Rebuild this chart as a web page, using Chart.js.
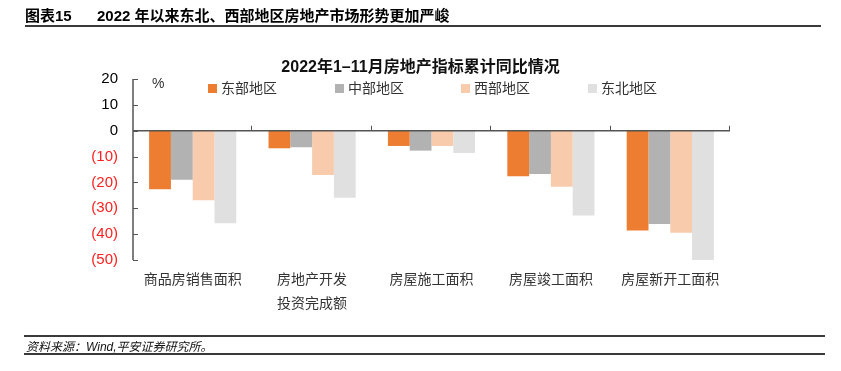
<!DOCTYPE html>
<html>
<head>
<meta charset="utf-8">
<script src="https://cdn.jsdelivr.net/npm/chart.js@4"></script>
<style>
  body { margin: 0; width: 841px; height: 371px; background: #fff; position: relative; overflow: hidden;
         font-family: Arial, "Liberation Sans", "Noto Sans CJK SC", sans-serif; }
  #wrap { position: absolute; left: 0; top: 0; width: 841px; height: 371px; }
  .txt { position: absolute; white-space: nowrap; color: #000; }
  .line { position: absolute; height: 2px; background: #3a3a3a; }
  .leg { position: absolute; top: 77px; font-size: 14px; color: #333; white-space: nowrap; }
  .leg i { display: inline-block; width: 9px; height: 9px; margin-right: 4px; vertical-align: 0px; }
</style>
</head>
<body>
<div id="wrap"><canvas id="regionChart" width="841" height="371"></canvas></div>
<div class="txt" style="left:25px;top:4px;font-size:15px;font-weight:bold;">图表15</div>
<div class="txt" style="left:97px;top:4px;font-size:15px;font-weight:bold;">2022 年以来东北、西部地区房地产市场形势更加严峻</div>
<div class="line" style="left:25px;top:25px;width:796px;"></div>
<div class="txt" style="left:0;width:841px;text-align:center;top:53px;font-size:16px;font-weight:bold;color:#111;">2022年1–11月房地产指标累计同比情况</div>
<div class="txt" style="left:152px;top:75px;font-size:14px;color:#333;">%</div>
<div id="legend"></div>
<div class="line" style="left:24px;top:335px;width:801px;"></div>
<div class="txt" style="left:26px;top:337px;font-size:12px;font-style:italic;color:#111;">资料来源：Wind,平安证券研究所。</div>
<div class="line" style="left:24px;top:353px;width:801px;"></div>
<script>
// ======================== 数据 ========================
const categories = ['商品房销售面积', ['房地产开发', '投资完成额'], '房屋施工面积', '房屋竣工面积', '房屋新开工面积'];
const seriesNames = ['东部地区', '中部地区', '西部地区', '东北地区'];
const eastData = [-22.6, -6.8, -5.9, -17.6, -38.6];
const centralData = [-19.0, -6.4, -7.7, -16.7, -36.1];
const westData = [-26.9, -17.1, -5.9, -21.7, -39.5];
const northeastData = [-35.8, -25.9, -8.6, -32.8, -50.6];
const yTicks = [20, 10, 0, -10, -20, -30, -40, -50];
const colors = ['#ED7D31', '#B2B2B2', '#F8CBAD', '#E0E0E0'];

// ======================== 图例 ========================
const legendX = [208, 335, 461, 588];
const legendBox = document.getElementById('legend');
seriesNames.forEach((name, i) => {
  const el = document.createElement('div');
  el.className = 'leg';
  el.style.left = legendX[i] + 'px';
  el.innerHTML = `<i style="background:${colors[i]}"></i>${name}`;
  legendBox.appendChild(el);
});

// 轴线和刻度线（刻度朝内）
const axisPlugin = {
  id: 'axisLines',
  afterDatasetsDraw(chart) {
    const { ctx, chartArea, scales } = chart;
    const x = scales.x, y = scales.y;
    const zeroY = y.getPixelForValue(0);
    ctx.save();
    ctx.strokeStyle = '#555';
    ctx.lineWidth = 1.5;
    ctx.beginPath();
    ctx.moveTo(chartArea.left, chartArea.top);
    ctx.lineTo(chartArea.left, chartArea.bottom);
    ctx.stroke();
    ctx.lineWidth = 1;
    yTicks.forEach(v => {
      const py = Math.round(y.getPixelForValue(v)) + 0.5;
      ctx.beginPath();
      ctx.moveTo(chartArea.left, py);
      ctx.lineTo(chartArea.left + 5, py);
      ctx.stroke();
    });
    ctx.lineWidth = 1.5;
    ctx.beginPath();
    ctx.moveTo(chartArea.left, zeroY);
    ctx.lineTo(chartArea.right, zeroY);
    ctx.stroke();
    ctx.lineWidth = 1;
    const step = x.width / categories.length;
    for (let i = 1; i <= categories.length; i++) {
      const px = Math.round(chartArea.left + step * i) - 0.5;
      ctx.beginPath();
      ctx.moveTo(px, zeroY);
      ctx.lineTo(px, zeroY - 5);
      ctx.stroke();
    }
    ctx.restore();
  }
};

const dataSets = [eastData, centralData, westData, northeastData];

new Chart(document.getElementById('regionChart').getContext('2d'), {
  type: 'bar',
  data: {
    labels: categories,
    datasets: seriesNames.map((name, i) => ({
      label: name,
      data: dataSets[i],
      backgroundColor: colors[i],
      borderWidth: 0
    }))
  },
  options: {
    responsive: false,
    animation: false,
    layout: { padding: { left: 0, right: 111, top: 79, bottom: 51 } },
    plugins: { legend: { display: false }, tooltip: { enabled: false } },
    datasets: { bar: { categoryPercentage: 0.73, barPercentage: 1.0 } },
    scales: {
      x: {
        grid: { display: false, drawTicks: false },
        border: { display: false },
        ticks: {
          color: '#333',
          padding: 9,
          maxRotation: 0,
          autoSkip: false,
          font: { size: 14, family: 'Arial, "Liberation Sans", "Noto Sans CJK SC"', lineHeight: 1.65 }
        },
        afterFit: s => { s.height = 60; }
      },
      y: {
        min: -50,
        max: 20,
        grid: { display: false, drawTicks: false },
        border: { display: false },
        ticks: {
          stepSize: 10,
          padding: 15,
          color: c => c.tick.value < 0 ? '#FF2020' : '#000',
          font: { size: 15, family: 'Arial, "Liberation Sans", sans-serif' },
          callback: v => v < 0 ? `(${-v})` : `${v}`
        },
        afterFit: s => { s.width = 133; }
      }
    }
  },
  plugins: [axisPlugin]
});
</script>
</body>
</html>
